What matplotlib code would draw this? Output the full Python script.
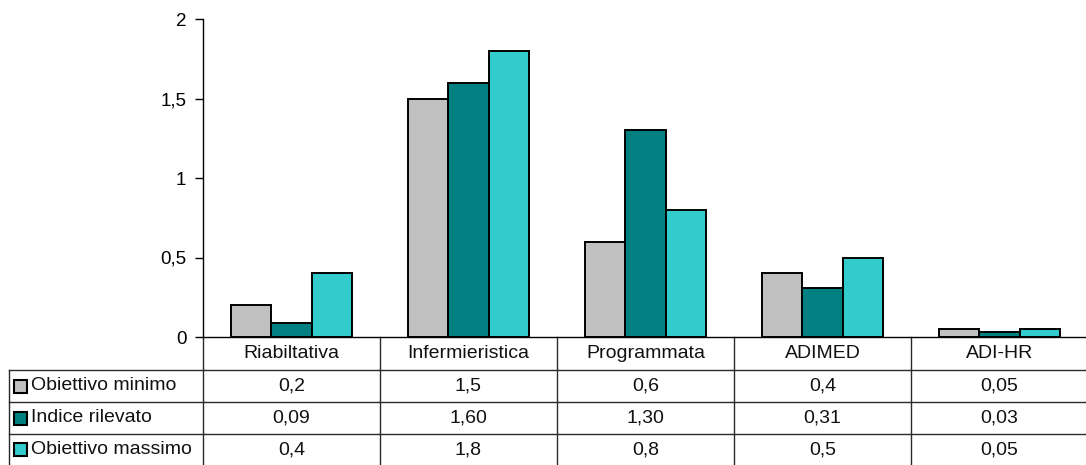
import numpy as np
import matplotlib
matplotlib.use("Agg")
import matplotlib.pyplot as plt
import matplotlib.transforms as mtransforms
from matplotlib.patches import Rectangle

plt.rcParams['font.family'] = ['Liberation Sans', 'DejaVu Sans']

categorie = ["Riabiltativa", "Infermieristica", "Programmata", "ADIMED", "ADI-HR"]
serie = ["Obiettivo minimo", "Indice rilevato", "Obiettivo massimo"]
obiettivo_minimo = [0.2, 1.5, 0.6, 0.4, 0.05]
indice_rilevato = [0.09, 1.60, 1.30, 0.31, 0.03]
obiettivo_massimo = [0.4, 1.8, 0.8, 0.5, 0.05]
colori = ["#C0C0C0", "#008080", "#33CCCC"]

valori = [obiettivo_minimo, indice_rilevato, obiettivo_massimo]
testo = [
    [f"{v:g}".replace(".", ",") for v in obiettivo_minimo],
    [f"{v:.2f}".replace(".", ",") for v in indice_rilevato],
    [f"{v:g}".replace(".", ",") for v in obiettivo_massimo],
]

W, H = 1086, 465
fig = plt.figure(figsize=(W / 100, H / 100), dpi=100)
# area del grafico in pixel: x 203..1088, y 19..337
AX_L, AX_R, AX_T, AX_B = 203, 1088, 19, 337
ax = fig.add_axes([AX_L / W, (H - AX_B) / H, (AX_R - AX_L) / W, (AX_B - AX_T) / H])

x = np.arange(len(categorie))
bw = 0.226
for i, (vals, col) in enumerate(zip(valori, colori)):
    ax.bar(x + (i - 1) * bw, vals, bw, color=col, edgecolor="black", linewidth=1.4, zorder=3)

ax.set_xlim(-0.5, len(categorie) - 0.5)
ax.set_ylim(0, 2)
ax.set_yticks([0, 0.5, 1, 1.5, 2])
ax.set_yticklabels(["0", "0,5", "1", "1,5", "2"])
ax.set_xticks([])
ax.tick_params(axis="y", direction="out", length=6, width=1, pad=6, labelsize=13.5)
ax.spines["top"].set_visible(False)
ax.spines["right"].set_visible(False)
ax.spines["left"].set_linewidth(1)
ax.spines["bottom"].set_linewidth(1)

# --- tabella dati sotto il grafico (x in dati, y in coordinate assi) ---
axh = AX_B - AX_T
def ypx(py):
    return (AX_B - py) / axh

tr = mtransforms.blended_transform_factory(ax.transData, ax.transAxes)
unit = (AX_R - AX_L) / len(categorie)
x_left = -0.5 - (AX_L - 9) / unit     # bordo sinistro tabella
x_lab = -0.5 - (AX_L - 31) / unit
righe = [337, 370, 402, 434, 466]
lc = "#2a2a2a"
lw = 1
fs = 14

# linee orizzontali
for py in righe[1:]:
    ax.plot([x_left, len(categorie) - 0.5], [ypx(py)] * 2, color=lc, lw=lw,
            transform=tr, clip_on=False)
# linee verticali
ax.plot([x_left, x_left], [ypx(righe[1]), ypx(righe[-1])], color=lc, lw=lw,
        transform=tr, clip_on=False)
for k in range(len(categorie)):
    ax.plot([k - 0.5, k - 0.5], [ypx(righe[0]), ypx(righe[-1])], color=lc, lw=lw,
            transform=tr, clip_on=False)

# intestazioni
for k, nome in enumerate(categorie):
    ax.text(k, ypx((righe[0] + righe[1]) / 2), nome, transform=tr,
            ha="center", va="center", fontsize=fs, color="#111111")
# righe di valori con legenda
for i, (nome, col) in enumerate(zip(serie, colori)):
    yc = ypx((righe[i + 1] + righe[i + 2]) / 2)
    ax.text(x_lab, yc, nome, transform=tr, ha="left", va="center",
            fontsize=fs, color="#111111")
    sq_x = -0.5 - (AX_L - 14) / unit
    ax.add_patch(Rectangle((sq_x, yc - 6.5 / axh), 12.5 / unit, 13 / axh,
                           transform=tr, facecolor=col, edgecolor="black",
                           linewidth=1.5, clip_on=False, zorder=5))
    for k in range(len(categorie)):
        ax.text(k, yc, testo[i][k], transform=tr, ha="center", va="center",
                fontsize=fs, color="#111111")

fig.savefig("out.png", dpi=100)
